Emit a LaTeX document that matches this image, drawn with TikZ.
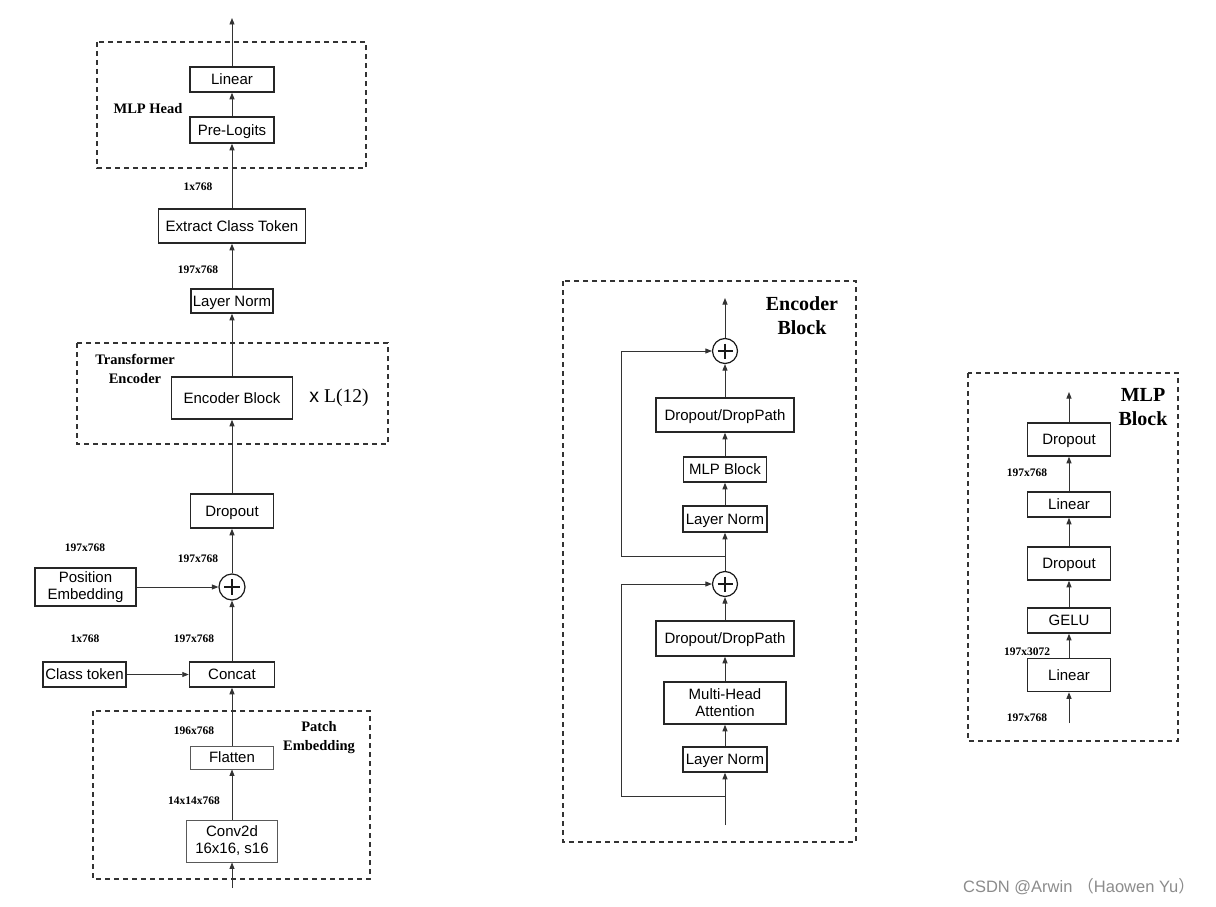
\documentclass[tikz,border=0pt]{standalone}
\usepackage{fontspec}
\setmainfont{Liberation Serif}
\setsansfont{Liberation Sans}
\newfontfamily\cjkfont{Noto Sans CJK SC}
\usetikzlibrary{arrows.meta}
\begin{document}
\begin{tikzpicture}[x=1pt,y=-1pt,
  mbox/.style={draw=black!85, line width=1.5pt, fill=white, inner sep=0pt, align=center,
    font=\sffamily\fontsize{15}{17}\selectfont},
  box/.style={mbox, text height=11pt, text depth=1pt},
  thinbox/.style={box, line width=0.9pt, draw=black!65},
  thinmbox/.style={mbox, line width=0.9pt, draw=black!65},
  lab/.style={font=\bfseries\fontsize{11.5}{12.5}\selectfont, inner sep=0pt},
  grp/.style={font=\bfseries\fontsize{14.5}{18.5}\selectfont, align=center, inner sep=0pt},
  biggrp/.style={font=\bfseries\fontsize{20}{23.5}\selectfont, align=center, inner sep=0pt},
  arr/.style={draw=black!80, line width=0.9pt, -{Triangle[length=6.5pt,width=5pt]}},
  dashbox/.style={draw=black!80, line width=1.5pt, dash pattern=on 5pt off 4pt},
  plus/.style={circle, draw=black!90, line width=1.2pt, minimum size=26pt, inner sep=0pt, fill=white,
    path picture={\draw[line width=1.1pt]
      ([xshift=5pt]path picture bounding box.west) -- ([xshift=-5pt]path picture bounding box.east)
      ([yshift=-5pt]path picture bounding box.north) -- ([yshift=5pt]path picture bounding box.south);}}
]
\fill[white] (0,0) rectangle (1216,907);
\useasboundingbox (0,0) rectangle (1216,907);

% ---------------- left column ----------------
\draw[dashbox] (97,42) rectangle (366,168);
\draw[dashbox] (77,343) rectangle (388,444);
\draw[dashbox] (93,711) rectangle (370,879);

\coordinate (top1) at (232,18);
\node[box, minimum width=84pt, minimum height=25pt] (lin) at (232,79.5) {Linear};
\node[box, minimum width=84pt, minimum height=26pt] (pre) at (232,130) {Pre-Logits};
\node[box, minimum width=147pt, minimum height=34pt] (ect) at (232,226) {Extract Class Token};
\node[box, minimum width=82pt, minimum height=24pt] (ln1) at (232,301) {Layer Norm};
\node[box, minimum width=121pt, minimum height=42pt] (enc) at (232,398) {Encoder Block};
\node[box, minimum width=83pt, minimum height=34pt] (drop) at (232,511) {Dropout};
\node[plus] (plus1) at (232,587) {};
\node[mbox, minimum width=101pt, minimum height=38pt] (pos) at (85.5,587) {Position\\Embedding};
\node[box, minimum width=83pt, minimum height=25pt] (cls) at (84.5,674.5) {Class token};
\node[box, minimum width=85pt, minimum height=25pt] (concat) at (232,674.5) {Concat};
\node[thinbox, minimum width=83pt, minimum height=23pt] (flat) at (232,757.5) {Flatten};
\node[thinmbox, minimum width=91pt, minimum height=42pt] (conv) at (232,841) {Conv2d\\16x16, s16};
\coordinate (bot1) at (232,888);

\node[grp] (mlphead) at (148,109) {MLP Head};
\node[grp] (te) at (135,369) {Transformer\\Encoder};
\node[grp] (pe) at (319,737.5) {Patch\\Embedding};
\node[inner sep=0pt, font=\fontsize{19.5}{22}\selectfont] (xl) at (339,398) {{\sffamily x} L(12)};
\node[lab] (s1) at (198,187) {1x768};
\node[lab] (s2) at (198,270) {197x768};
\node[lab] (s3) at (85,548) {197x768};
\node[lab] (s4) at (198,559) {197x768};
\node[lab] (s5) at (85,639) {1x768};
\node[lab] (s6) at (194,639) {197x768};
\node[lab] (s7) at (194,731) {196x768};
\node[lab] (s8) at (194,801) {14x14x768};

\draw[arr] (lin) -- (top1);
\draw[arr] (pre) -- (lin);
\draw[arr] (ect) -- (pre);
\draw[arr] (ln1) -- (ect);
\draw[arr] (enc) -- (ln1);
\draw[arr] (drop) -- (enc);
\draw[arr] (plus1) -- (drop);
\draw[arr] (concat) -- (plus1);
\draw[arr] (pos) -- (plus1);
\draw[arr] (cls) -- (concat);
\draw[arr] (flat) -- (concat);
\draw[arr] (conv) -- (flat);
\draw[arr] (bot1) -- (conv);

% ---------------- encoder block ----------------
\draw[dashbox] (563,281) rectangle (856,842);
\node[biggrp] (eb) at (802,315.5) {Encoder\\Block};
\coordinate (topA) at (725,298);
\node[plus, minimum size=25pt] (plusA) at (725,351) {};
\node[box, minimum width=138pt, minimum height=34pt] (ddA) at (725,415) {Dropout/DropPath};
\node[box, minimum width=83pt, minimum height=25pt] (mlpb) at (725,469.5) {MLP Block};
\node[box, minimum width=84pt, minimum height=26pt] (lnA) at (725,519) {Layer Norm};
\coordinate (brA) at (725,556);
\coordinate (skA) at (621,556);
\node[plus, minimum size=25pt] (plusB) at (725,584) {};
\node[box, minimum width=138pt, minimum height=35pt] (ddB) at (725,638.5) {Dropout/DropPath};
\node[mbox, minimum width=122pt, minimum height=42pt] (mha) at (725,703) {Multi-Head\\Attention};
\node[box, minimum width=84pt, minimum height=25pt] (lnB) at (725,759.5) {Layer Norm};
\coordinate (brB) at (725,796);
\coordinate (skB) at (621,796);
\coordinate (botB) at (725,825);

\draw[arr] (plusA) -- (topA);
\draw[arr] (ddA) -- (plusA);
\draw[arr] (mlpb) -- (ddA);
\draw[arr] (lnA) -- (mlpb);
\draw[arr] (plusB) -- (lnA);
\draw[arr] (brA) -- (skA) |- (plusA);
\draw[arr] (ddB) -- (plusB);
\draw[arr] (mha) -- (ddB);
\draw[arr] (lnB) -- (mha);
\draw[arr] (botB) -- (lnB);
\draw[arr] (brB) -- (skB) |- (plusB);

% ---------------- MLP block ----------------
\draw[dashbox] (968,373) rectangle (1178,741);
\node[biggrp] (mb) at (1143,407) {MLP\\Block};
\coordinate (topR) at (1069,392);
\node[box, minimum width=83pt, minimum height=33pt] (d1) at (1069,439.5) {Dropout};
\node[box, minimum width=83pt, minimum height=25pt] (l1) at (1069,504.5) {Linear};
\node[box, minimum width=83pt, minimum height=33pt] (d2) at (1069,563.5) {Dropout};
\node[box, minimum width=83pt, minimum height=25pt] (gelu) at (1069,620.5) {GELU};
\node[box, minimum width=83pt, minimum height=33pt] (l2) at (1069,675) {Linear};
\coordinate (botR) at (1069,723);
\node[lab] (r1) at (1027,473) {197x768};
\node[lab] (r2) at (1027,652) {197x3072};
\node[lab] (r3) at (1027,718) {197x768};

\draw[arr] (d1) -- (topR);
\draw[arr] (l1) -- (d1);
\draw[arr] (d2) -- (l1);
\draw[arr] (gelu) -- (d2);
\draw[arr] (l2) -- (gelu);
\draw[arr] (botR) -- (l2);

% watermark
\node[inner sep=0pt, text=black!45, font=\sffamily\fontsize{16.5}{18}\selectfont] (wm) at (1079,887)
  {CSDN @Arwin\hspace{5pt}{\cjkfont（}Haowen Yu{\cjkfont）}};
\end{tikzpicture}
\end{document}
